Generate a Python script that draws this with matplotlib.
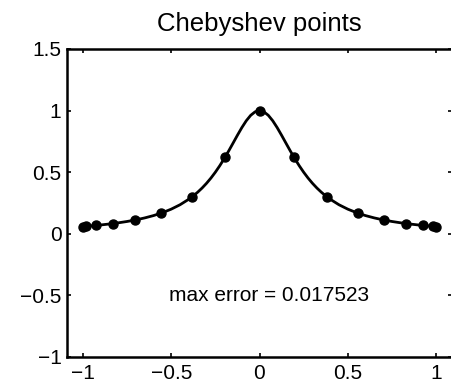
import matplotlib
matplotlib.use("Agg")
import matplotlib.pyplot as plt

plt.rcParams['font.family'] = ['Liberation Sans', 'DejaVu Sans']

# Chebyshev nodes and sampled function values
node_x = [-1.0, -0.9808, -0.9239, -0.8315, -0.7071, -0.5556, -0.3827, -0.1951, 0.0,
          0.1951, 0.3827, 0.5556, 0.7071, 0.8315, 0.9239, 0.9808, 1.0]
node_y = [0.0588, 0.0610, 0.0682, 0.0829, 0.1111, 0.1684, 0.2991, 0.6215, 1.0,
          0.6215, 0.2991, 0.1684, 0.1111, 0.0829, 0.0682, 0.0610, 0.0588]

# interpolant curve
curve_x = [-1.0, -0.95, -0.9, -0.85, -0.8, -0.75, -0.7, -0.65, -0.6, -0.55, -0.5, -0.45,
           -0.4, -0.375, -0.35, -0.325, -0.3, -0.275, -0.25, -0.225, -0.2, -0.175, -0.15,
           -0.125, -0.1, -0.075, -0.05, -0.025, 0.0, 0.025, 0.05, 0.075, 0.1, 0.125, 0.15,
           0.175, 0.2, 0.225, 0.25, 0.275, 0.3, 0.325, 0.35, 0.375, 0.4, 0.45, 0.5, 0.55,
           0.6, 0.65, 0.7, 0.75, 0.8, 0.85, 0.9, 0.95, 1.0]
curve_y = [0.0588, 0.0648, 0.0716, 0.0796, 0.0890, 0.1000, 0.1131, 0.1289, 0.1479, 0.1712,
           0.2000, 0.2358, 0.2809, 0.3077, 0.3378, 0.3717, 0.4098, 0.4525, 0.5000, 0.5525,
           0.6098, 0.6711, 0.7353, 0.8000, 0.8621, 0.9174, 0.9615, 0.9901, 1.0, 0.9901,
           0.9615, 0.9174, 0.8621, 0.8000, 0.7353, 0.6711, 0.6098, 0.5525, 0.5000, 0.4525,
           0.4098, 0.3717, 0.3378, 0.3077, 0.2809, 0.2358, 0.2000, 0.1712, 0.1479, 0.1289,
           0.1131, 0.1000, 0.0890, 0.0796, 0.0716, 0.0648, 0.0588]

xticks = [-1, -0.5, 0, 0.5, 1]
xticklabels = ['\u22121', '\u22120.5', '0', '0.5', '1']
yticks = [-1, -0.5, 0, 0.5, 1, 1.5]
yticklabels = ['\u22121', '\u22120.5', '0', '0.5', '1', '1.5']

fig = plt.figure(figsize=(4.51, 3.85), dpi=100)
ax = fig.add_axes([67/451, 28/385, 385/451, 308/385])
ax.plot(curve_x, curve_y, color='black', linewidth=2.0)
ax.plot(node_x, node_y, 'o', color='black', markersize=6.5)
ax.set_xlim(-1.09, 1.09)
ax.set_ylim(-1, 1.5)
ax.set_xticks(xticks)
ax.set_xticklabels(xticklabels)
ax.set_yticks(yticks)
ax.set_yticklabels(yticklabels)
ax.tick_params(direction='in', top=True, right=True, length=3, width=1.2,
               labelsize=15)
ax.tick_params(axis='x', pad=5)
ax.tick_params(axis='y', pad=4)
for s in ax.spines.values():
    s.set_linewidth(1.8)
ax.set_title('Chebyshev points', fontsize=18.5, pad=13)
ax.text(-0.51, -0.5, 'max error = 0.017523', fontsize=15, ha='left', va='center')
fig.savefig('out.png', dpi=100)
